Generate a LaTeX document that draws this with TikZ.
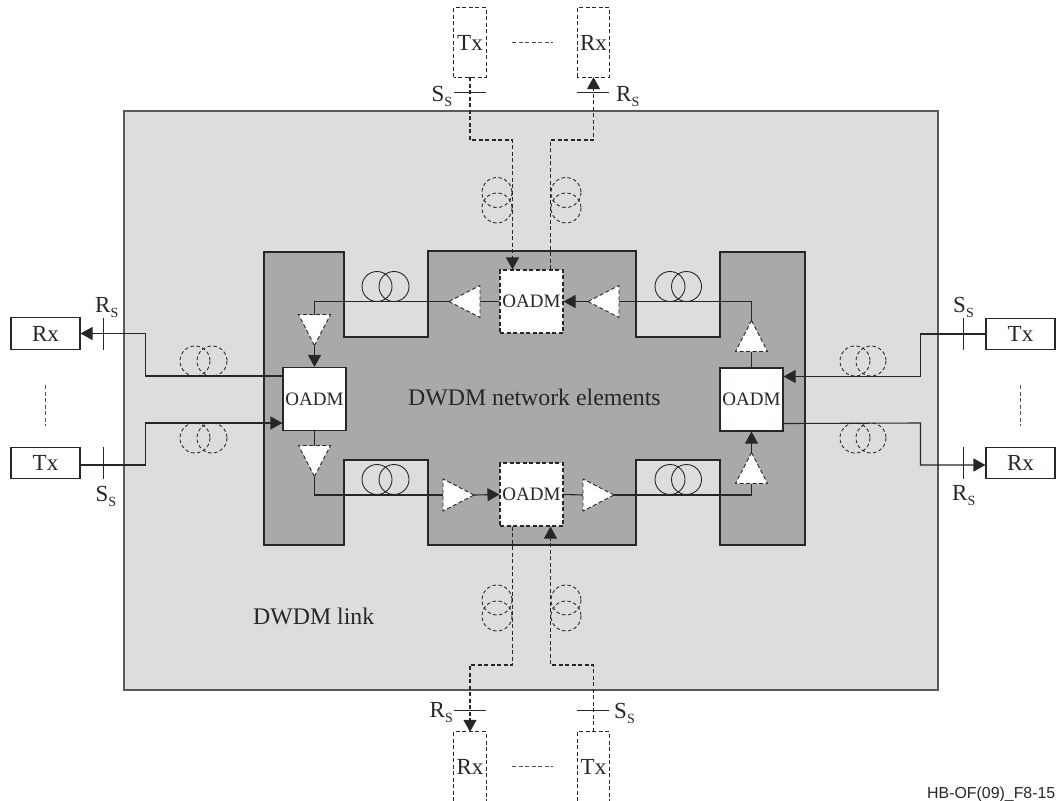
\documentclass[tikz,border=0pt]{standalone}
\usepackage{fontspec}
\setmainfont{Liberation Serif}
\newfontfamily\footfont{Liberation Sans}
\usetikzlibrary{arrows.meta, shapes.geometric, positioning}

\definecolor{linkgray}{HTML}{DEDDDC}
\definecolor{elemgray}{HTML}{A9A9A9}
\definecolor{inkgray}{HTML}{2A2627}

\newcommand{\subS}{\raisebox{-5pt}{\fontsize{14}{14}\selectfont S}}

\tikzset{
  conn/.style={draw=inkgray, line width=1.1pt},
  connarrow/.style={conn, -{Triangle[length=12pt, width=13pt]}},
  dashconn/.style={conn, dash pattern=on 4pt off 2.5pt},
  dasharrow/.style={dashconn, -{Triangle[length=12pt, width=13pt]}},
  termbox/.style={draw=inkgray, line width=1.1pt, fill=white, inner sep=0pt, minimum width=69pt, minimum height=31.5pt, text=inkgray, font=\fontsize{23}{24}\selectfont},
  tallbox/.style={inner sep=0pt, minimum width=32pt, minimum height=69pt, text=inkgray, font=\fontsize{23}{24}\selectfont},
  oadm/.style={draw=inkgray, line width=1.1pt, fill=white, inner sep=0pt, minimum width=63pt, minimum height=63pt, text=inkgray, font=\fontsize{19}{20}\selectfont},
  amp/.style={isosceles triangle, isosceles triangle stretches, draw=inkgray, line width=.9pt, dash pattern=on 4pt off 2.5pt, fill=white, inner sep=0pt, outer sep=0pt, minimum width=32pt, minimum height=31pt},
  fibre/.style={draw=inkgray, line width=.9pt},
  fibredash/.style={fibre, dash pattern=on 3.5pt off 2.5pt},
  marktick/.style={draw=inkgray, line width=.9pt},
  lbl/.style={anchor=base west, inner sep=0pt, text=inkgray, font=\fontsize{23}{24}\selectfont},
  gaprule/.style={draw=inkgray!80, line width=.9pt, dash pattern=on 4pt off 2.5pt}
}

\begin{document}
\begin{tikzpicture}[x=1pt, y=-1pt]
        \useasboundingbox (0, 0) rectangle (1056, 800);
        \fill[white] (0, 0) rectangle (1056, 800);
        % shaded areas
        \draw[fill=linkgray, draw=black!65, line width=1.5pt] (124, 111) rectangle (938, 690);
        \draw[fill=elemgray, draw=inkgray, line width=1.1pt] (264, 252) -- (344, 252) -- (344, 337) -- (428, 337) -- (428, 251) -- (636, 251) -- (636, 337) -- (720, 337) -- (720, 252) -- (805, 252) -- (805, 545) -- (720, 545) -- (720, 460) -- (636, 460) -- (636, 545) -- (428, 545) -- (428, 460) -- (344, 460) -- (344, 545) -- (264, 545) -- cycle;
        \node[lbl, font=\fontsize{23.8}{24}\selectfont] (netlabel) at (408, 405.5) {DWDM network elements};
        \node[lbl, font=\fontsize{23.8}{24}\selectfont] (linklabel) at (253, 624) {DWDM link};
        % terminals
        \node[termbox] (rxL) at (45.5, 333.5) {Rx};
        \node[termbox] (txL) at (45.5, 463) {Tx};
        \node[termbox] (txR) at (1020.5, 334) {Tx};
        \node[termbox] (rxR) at (1020.5, 463) {Rx};
        \node[tallbox] (txT) at (470, 42.5) {Tx};
        \node[tallbox] (rxT) at (593.5, 42.5) {Rx};
        \node[tallbox] (rxB) at (470, 766.5) {Rx};
        \node[tallbox] (txB) at (593.5, 766.5) {Tx};
        \draw[dashconn] (txT.south west) rectangle (txT.north east);
        \draw[dashconn] (rxT.south west) rectangle (rxT.north east);
        \draw[dashconn] (rxB.south west) |- (rxB.north) -| (rxB.south east);
        \draw[dashconn] (txB.south west) |- (txB.north) -| (txB.south east);
        % OADMs
        \node[oadm] (oadmL) at (314.5, 399) {OADM};
        \node[oadm] (oadmR) at (751.5, 399.5) {OADM};
        \node[oadm, dash pattern=on 4pt off 2.5pt] (oadmT) at (531.5, 301.5) {OADM};
        \node[oadm, dash pattern=on 4pt off 2.5pt] (oadmB) at (531.5, 494.5) {OADM};
        % amplifiers
        \node[amp, shape border rotate=90, anchor=apex] (ampRU) at (751.5, 320.5) {};
        \node[amp, shape border rotate=90, anchor=apex] (ampRD) at (751.5, 452.5) {};
        \node[amp, shape border rotate=270, anchor=apex] (ampLU) at (314.5, 345.5) {};
        \node[amp, shape border rotate=270, anchor=apex] (ampLD) at (314.5, 476.5) {};
        \node[amp, shape border rotate=180, anchor=apex] (ampTR) at (588, 301.5) {};
        \node[amp, shape border rotate=180, anchor=apex] (ampTL) at (449, 301.5) {};
        \node[amp, anchor=apex] (ampBL) at (474, 495) {};
        \node[amp, anchor=apex] (ampBR) at (614, 495) {};
        % ring
        \draw[conn] (oadmR.north) -- (ampRU.lower side);
        \draw[conn] (ampRU.apex) |- (ampTR.lower side);
        \draw[connarrow] (ampTR.apex) -- (oadmT.east);
        \draw[conn] (oadmT.west) -- (ampTL.lower side);
        \draw[conn] (ampTL.apex) -| (ampLU.lower side);
        \draw[connarrow] (ampLU.apex) -- (oadmL.north);
        \draw[conn] (oadmL.south) -- (ampLD.lower side);
        \draw[conn] (ampLD.apex) |- (ampBL.lower side);
        \draw[connarrow] (ampBL.apex) -- (oadmB.west);
        \draw[conn] (oadmB.east) -- (ampBR.lower side);
        \draw[conn] (ampBR.apex) -| (ampRD.lower side);
        \draw[connarrow] (ampRD.apex) -- (oadmR.south);
        % links to the terminals
        \draw[connarrow] ([yshift=23pt]oadmL.west) -- (145.5, 376) |- (rxL.east);
        \draw[connarrow] ([yshift=-2pt]txL.east) -- (145.5, 465) |- ([yshift=-24pt]oadmL.west);
        \draw[connarrow] (txR.west) -- (920.5, 334) |- ([yshift=23pt]oadmR.east);
        \draw[connarrow] ([yshift=-24pt]oadmR.east) -- (920.5, 423) |- ([yshift=-2pt]rxR.west);
        \draw[dasharrow] (txT.south) -- (470, 140) -| ([xshift=-19pt]oadmT.north);
        \draw[dasharrow] ([xshift=19pt]oadmT.north) -- (550.5, 140) -| (rxT.south);
        \draw[dasharrow] ([xshift=-19pt]oadmB.south) -- (512.5, 665) -| (rxB.north);
        \draw[dasharrow] (txB.north) -- (593.5, 665) -| ([xshift=19pt]oadmB.south);
        % fibre spools
        \foreach \x/\y in {377/286.5, 394/286.5, 670/286.5, 686.5/286.5, 377/479.5, 394/479.5, 670/479.5, 686.5/479.5}
          \draw[fibre] (\x, \y) circle (15);
        \foreach \x/\y in {195/361, 212/361, 195/438, 212/438, 855/361, 871/361, 855/438, 871/438, 497/192.5, 497/208, 566/192.5, 566/208, 497/600, 497/616, 566/600, 566/616}
          \draw[fibredash] (\x, \y) circle (15);
        % reference points
        \draw[marktick] (103.5, 318) -- ++(0, 32);
        \draw[marktick] (103.5, 447) -- ++(0, 32);
        \draw[marktick] (963, 318) -- ++(0, 32);
        \draw[marktick] (963, 447) -- ++(0, 32);
        \draw[marktick] (454, 92.5) -- ++(32, 0);
        \draw[marktick] (577, 92.5) -- ++(32, 0);
        \draw[marktick] (454, 710.5) -- ++(32, 0);
        \draw[marktick] (577, 710.5) -- ++(32, 0);
        \node[lbl] (rsL) at (95, 312) {R\subS};
        \node[lbl] (ssL) at (95.5, 501.5) {S\subS};
        \node[lbl] (ssR) at (953, 312.5) {S\subS};
        \node[lbl] (rsR) at (952, 500.5) {R\subS};
        \node[lbl] (ssT) at (431.5, 101) {S\subS};
        \node[lbl] (rsT) at (616, 101) {R\subS};
        \node[lbl] (rsB) at (429.5, 717.5) {R\subS};
        \node[lbl] (ssB) at (614, 718) {S\subS};
        % omitted terminals
        \draw[gaprule] (45, 385) -- (45, 426);
        \draw[gaprule] (1020.5, 385) -- (1020.5, 426);
        \draw[gaprule] (512, 42) -- (553, 42);
        \draw[gaprule] (512, 766.5) -- (553, 766.5);
        \node[anchor=base east, inner sep=0pt, text=inkgray, font=\footfont\fontsize{15.9}{16}\selectfont] (figref) at (1055.5, 798) {HB-OF(09)\_F8-15};
      \end{tikzpicture}
\end{document}
